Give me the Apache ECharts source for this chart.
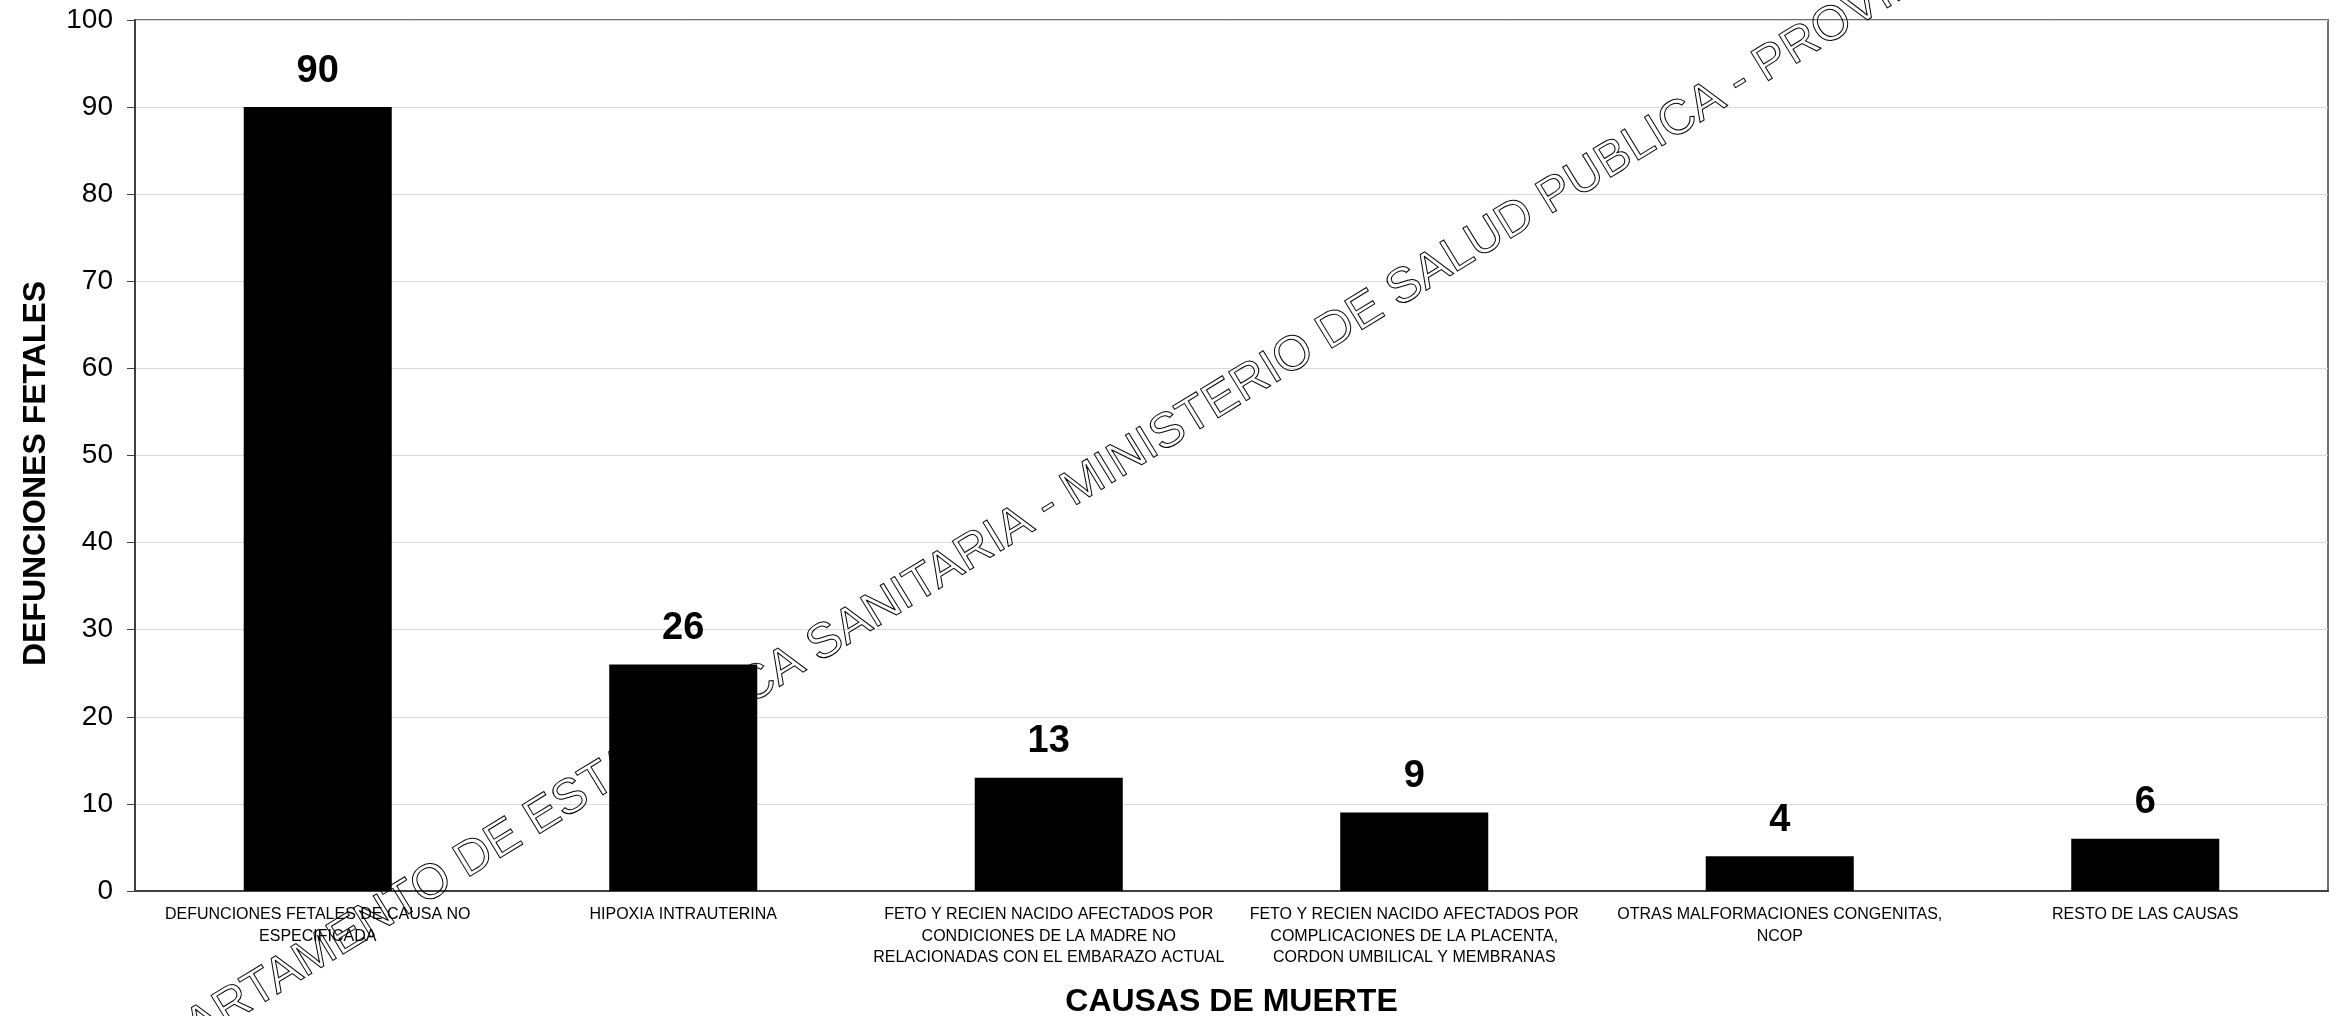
<!DOCTYPE html>
<html>
<head>
<meta charset="utf-8">
<script src="https://cdn.jsdelivr.net/npm/echarts@6/dist/echarts.min.js"></script>
<style>
  html, body { margin: 0; padding: 0; background: #fff; }
  #chart { width: 2344px; height: 1016px; }
</style>
</head>
<body>
<div id="chart"></div>
<script>
// causas de muerte (nombres con saltos de linea como en el original)
const categories = [
  "DEFUNCIONES FETALES DE CAUSA NO\nESPECIFICADA",
  "HIPOXIA INTRAUTERINA",
  "FETO Y RECIEN NACIDO AFECTADOS POR\nCONDICIONES DE LA MADRE NO\nRELACIONADAS CON EL EMBARAZO ACTUAL",
  "FETO Y RECIEN NACIDO AFECTADOS POR\nCOMPLICACIONES DE LA PLACENTA,\nCORDON UMBILICAL Y MEMBRANAS",
  "OTRAS MALFORMACIONES CONGENITAS,\nNCOP",
  "RESTO DE LAS CAUSAS",
];
const defunciones = [90, 26, 13, 9, 4, 6];

const yTitle = "DEFUNCIONES FETALES";
const xTitle = "CAUSAS DE MUERTE";
const marcaIzq = "DEPARTAMENTO DE ESTADISTICA SANITARIA - ";
const marcaDer = "MINISTERIO DE SALUD PUBLICA - PROVINCIA DE TUCUMAN";

const FONT = '"Liberation Sans", Arial, sans-serif';

var myChart = echarts.init(document.getElementById("chart"));
myChart.setOption({
  animation: false,
  backgroundColor: "#fff",
  grid: {
    left: 135,
    top: 20,
    right: 16,
    bottom: 125,
    outerBoundsMode: "none",
    containLabel: false,
    show: true,
    borderColor: "#707070",
    borderWidth: 2,
  },
  xAxis: {
    type: "category",
    data: categories,
    name: xTitle,
    nameLocation: "middle",
    nameGap: 95,
    nameTextStyle: {
      fontFamily: FONT,
      fontSize: 32,
      fontWeight: "bold",
      color: "#000",
    },
    axisLine: { lineStyle: { color: "#404040", width: 2 } },
    axisTick: { length: 8, lineStyle: { color: "#404040", width: 1 } },
    axisLabel: {
      interval: 0,
      margin: 13,
      fontFamily: FONT,
      fontSize: 16,
      lineHeight: 21.5,
      color: "#000",
    },
  },
  yAxis: {
    type: "value",
    min: 0,
    max: 100,
    interval: 10,
    name: yTitle,
    nameLocation: "middle",
    nameGap: 83,
    nameTextStyle: {
      fontFamily: FONT,
      fontSize: 32,
      fontWeight: "bold",
      color: "#000",
      padding: [0, 36, 0, 0],
    },
    axisLine: { show: true, lineStyle: { color: "#404040", width: 2 } },
    axisTick: { show: true, length: 8, lineStyle: { color: "#404040", width: 1 } },
    axisLabel: {
      margin: 22,
      fontFamily: FONT,
      fontSize: 28,
      color: "#000",
    },
    splitLine: { lineStyle: { color: "#d9d9d9", width: 1 } },
  },
  graphic: [
    {
      type: "group",
      x: 1079,
      y: 516,
      rotation: (31.5 * Math.PI) / 180,
      children: [
        {
          type: "text",
          z: 1,
          style: {
            text: marcaIzq,
            align: "right",
            verticalAlign: "bottom",
            font: "49px " + FONT,
            fill: "none",
            stroke: "#000",
            lineWidth: 1,
          },
        },
        {
          type: "text",
          z: 1,
          style: {
            text: marcaDer,
            align: "left",
            verticalAlign: "bottom",
            font: "49px " + FONT,
            fill: "none",
            stroke: "#000",
            lineWidth: 1,
          },
        },
      ],
    },
  ],
  series: [
    {
      type: "bar",
      data: defunciones,
      barWidth: "40.5%",
      z: 3,
      itemStyle: { color: "#000" },
      label: {
        show: true,
        position: "top",
        distance: 17,
        fontFamily: FONT,
        fontSize: 38,
        fontWeight: "bold",
        color: "#000",
      },
    },
  ],
});
</script>
</body>
</html>
